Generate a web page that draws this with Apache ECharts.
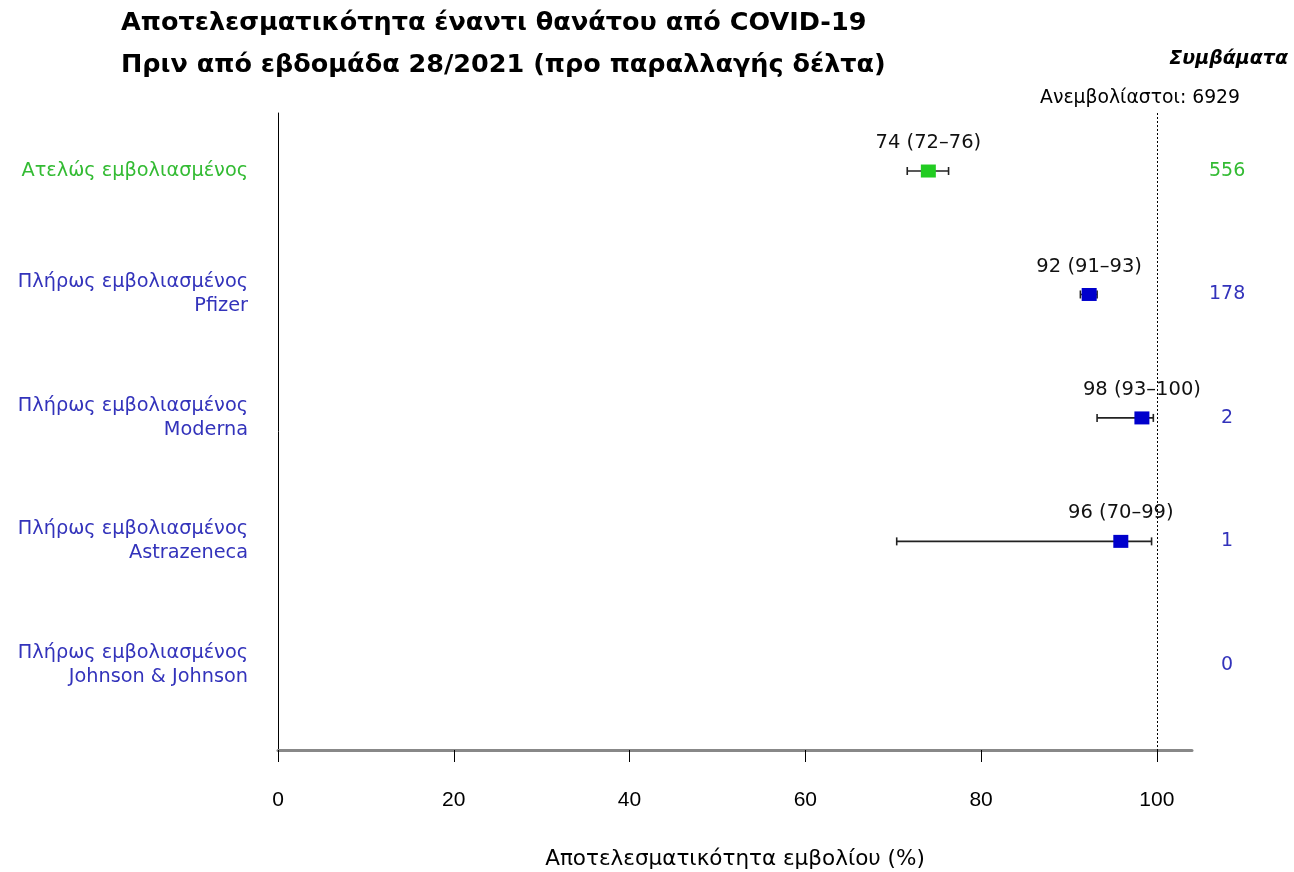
<!DOCTYPE html>
<html><head><meta charset="utf-8">
<script src="https://cdn.jsdelivr.net/npm/echarts@6/dist/echarts.min.js"></script>
<style>html,body{margin:0;padding:0;background:#fff}#c{width:1294px;height:872px}</style>
</head><body><div id="c"></div>
<script>
const categories = [
  'Ατελώς εμβολιασμένος',
  'Πλήρως εμβολιασμένος\nPfizer',
  'Πλήρως εμβολιασμένος\nModerna',
  'Πλήρως εμβολιασμένος\nAstrazeneca',
  'Πλήρως εμβολιασμένος\nJohnson & Johnson'
];
const estimates = [74.0, 92.3, 98.3, 95.9, null];
const lowerCI = [71.6, 91.3, 93.2, 70.4, null];
const upperCI = [76.3, 93.2, 99.6, 99.4, null];
const estLabels = ['74 (72–76)', '92 (91–93)', '98 (93–100)', '96 (70–99)', ''];
const events = [556, 178, 2, 1, 0];
const unvaccinated = 6929;
const xTicks = [0, 20, 40, 60, 80, 100];

const GREEN = '#22cc22', GREEN_T = '#33bb33';
const BLUE = '#0000cc', BLUE_T = '#3333bb';
const colorOf = i => i === 0 ? GREEN : BLUE;
const tcolorOf = i => i === 0 ? GREEN_T : BLUE_T;
const FONT = '"DejaVu Sans", "Liberation Sans", Arial, sans-serif';
const NFONT = '"Liberation Sans", Arial, Helvetica, sans-serif';

const chart = echarts.init(document.getElementById('c'));
const rows = categories.map((c, i) => [i]);
const ptData = estimates.map((v, i) => v == null ? null : [v, i]).filter(Boolean);

chart.setOption({
  animation: false,
  title: {
    text: 'Αποτελεσματικότητα έναντι θανάτου από COVID-19\nΠριν από εβδομάδα 28/2021 (προ παραλλαγής δέλτα)',
    left: 116, top: -3,
    textStyle: {fontFamily: FONT, fontWeight: 'bold', fontSize: 25.5, lineHeight: 42, color: '#000'}
  },
  grid: {left: 278, right: 102, top: 113, bottom: 122, outerBoundsMode: 'none', containLabel: false},
  xAxis: {
    type: 'value', min: 0, max: 104,
    axisLine: {show: true, onZero: false, lineStyle: {color: '#888', width: 3}},
    axisTick: {show: true, length: 12, customValues: xTicks, lineStyle: {color: '#000', width: 1}},
    axisLabel: {customValues: xTicks, fontFamily: NFONT, fontSize: 21, color: '#000', margin: 40},
    splitLine: {show: false},
    name: 'Αποτελεσματικότητα εμβολίου (%)', nameLocation: 'middle', nameGap: 98,
    nameTextStyle: {fontFamily: FONT, fontSize: 21.5, color: '#000'}
  },
  yAxis: {
    type: 'value', min: -0.47, max: 4.69, inverse: true,
    axisLine: {show: true, onZero: false, lineStyle: {color: '#000', width: 1}},
    axisTick: {show: false}, axisLabel: {show: false}, splitLine: {show: false}
  },
  series: [
    {
      type: 'line', data: [], silent: true,
      markLine: {
        symbol: 'none', silent: true, label: {show: false},
        lineStyle: {color: '#000', type: [2, 2], width: 1},
        data: [{xAxis: 100}]
      }
    },
    {
      type: 'custom', silent: true, clip: false,
      data: rows,
      renderItem: (params, api) => {
        const i = api.value(0);
        const children = [];
        const base = api.coord([0, i]);
        children.push({
          type: 'text', style: {
            x: base[0] - 30, y: base[1], text: categories[i], align: 'right', verticalAlign: 'middle',
            fill: tcolorOf(i), font: '19.3px ' + FONT, lineHeight: 24
          }
        });
        const cpos = api.coord([108, i]);
        children.push({
          type: 'text', style: {
            x: cpos[0], y: cpos[1], text: String(events[i]), align: 'center', verticalAlign: 'middle',
            fill: tcolorOf(i), font: '19px ' + FONT
          }
        });
        if (lowerCI[i] != null) {
          const a = api.coord([lowerCI[i], i]);
          const b = api.coord([upperCI[i], i]);
          const ls = {stroke: '#222', lineWidth: 1.6};
          children.push({type: 'line', shape: {x1: a[0], y1: a[1], x2: b[0], y2: b[1]}, style: ls});
          children.push({type: 'line', shape: {x1: a[0], y1: a[1] - 4, x2: a[0], y2: a[1] + 4}, style: ls});
          children.push({type: 'line', shape: {x1: b[0], y1: b[1] - 4, x2: b[0], y2: b[1] + 4}, style: ls});
          const e = api.coord([estimates[i], i]);
          children.push({
            type: 'text', style: {
              x: e[0], y: e[1] - 28, text: estLabels[i], align: 'center', verticalAlign: 'middle',
              fill: '#111', font: '19.5px ' + FONT
            }
          });
        }
        return {type: 'group', children};
      }
    },
    {
      type: 'scatter', symbol: 'rect', symbolSize: [15, 13], silent: true,
      data: ptData,
      itemStyle: {color: p => colorOf(p.data[1]), opacity: 1},
      z: 5
    }
  ],
  graphic: [
    {type: 'text', right: 6, top: 50, style: {text: 'Συμβάματα', font: 'italic bold 19px ' + FONT, fill: '#000', align: 'right'}},
    {type: 'text', right: 54, top: 89, style: {text: 'Ανεμβολίαστοι: ' + unvaccinated, font: '18.8px ' + FONT, fill: '#000', align: 'right'}}
  ]
});
</script></body></html>
